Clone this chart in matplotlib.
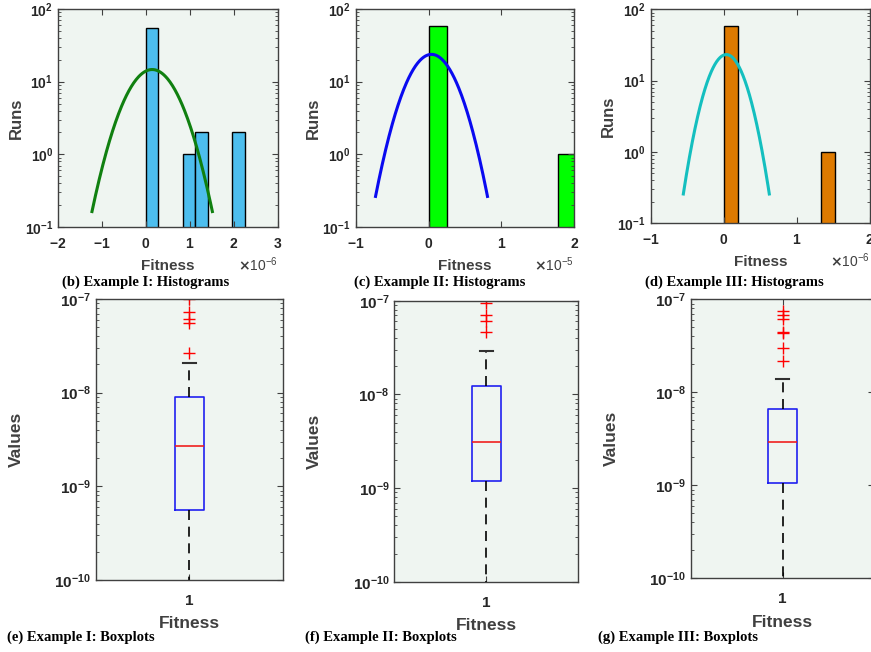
import numpy as np
import matplotlib
matplotlib.use("Agg")
import matplotlib.pyplot as plt
from matplotlib.ticker import ScalarFormatter, LogLocator

plt.rcParams['font.family'] = ['Liberation Sans', 'DejaVu Sans']
plt.rcParams['font.weight'] = 'bold'
plt.rcParams['axes.labelweight'] = 'bold'
plt.rcParams['axes.unicode_minus'] = False

# ---- histogram data (fitness values, counts per bin) ----
hist_titles = ['(b) Example I: Histograms', '(c) Example II: Histograms',
               '(d) Example III: Histograms']
hist_left_edges = [[0.0, 0.84e-6, 1.12e-6, 1.96e-6],
                   [0.0, 1.776e-5],
                   [0.0, 1.33e-6]]
hist_counts = [[55, 1, 2, 2],
               [59, 1],
               [59, 1]]
hist_binwidth = [0.28e-6, 0.254e-5, 0.19e-6]
hist_xlim = [(-2e-6, 3e-6), (-1e-5, 2e-5), (-1e-6, 2e-6)]
hist_xticks = [[-2e-6, -1e-6, 0, 1e-6, 2e-6, 3e-6],
               [-1e-5, 0, 1e-5, 2e-5],
               [-1e-6, 0, 1e-6, 2e-6]]
# normal fit (histfit) parameters
fit_mu = [0.14e-6, 0.04e-5, 0.034e-6]
fit_sigma = [0.456e-6, 0.256e-5, 0.196e-6]
n_runs = 60
bar_colors = ['#4DBEEE', '#00FF00', '#DE7A00']
fit_colors = ['#108010', '#0A0AF0', '#14BFBF']

# ---- boxplot data ----
box_titles = ['(e) Example I: Boxplots', '(f) Example II: Boxplots',
              '(g) Example III: Boxplots']
box_q1 = [5.6e-10, 1.2e-9, 1.05e-9]
box_med = [2.72e-9, 3.13e-9, 2.94e-9]
box_q3 = [8.9e-9, 1.24e-8, 6.56e-9]
box_whislo = [2e-11, 2e-11, 2e-11]
box_whishi = [2.09e-8, 2.92e-8, 1.4e-8]
box_fliers = [[1.0e-7, 7.2e-8, 6.1e-8, 5.6e-8, 2.67e-8],
              [9.4e-8, 7.0e-8, 6.07e-8, 4.67e-8],
              [7.55e-8, 6.78e-8, 6.1e-8, 4.4e-8, 4.3e-8, 2.97e-8, 2.19e-8]]

face = '#EFF5F1'
spine_col = '#404040'
txt_col = '#262626'

fig = plt.figure(figsize=(8.71, 6.52), dpi=100)

hist_pos = [[0.0666, 0.6518, 0.2526, 0.3344],
            [0.4084, 0.6518, 0.2510, 0.3344],
            [0.7471, 0.6575, 0.2518, 0.3282]]
box_pos = [[0.1102, 0.1104, 0.2143, 0.4310],
           [0.4527, 0.1078, 0.2113, 0.4310],
           [0.7933, 0.1130, 0.2106, 0.4279]]
hist_cap_x = [0.0712, 0.4064, 0.7405]
box_cap_x = [0.008, 0.350, 0.6866]


def style_axes(ax, fs):
    ax.set_facecolor(face)
    for s in ax.spines.values():
        s.set_color(spine_col)
        s.set_linewidth(1.0)
    ax.tick_params(which='both', direction='in', top=True, right=True,
                   colors=spine_col, labelcolor=txt_col, labelsize=fs)
    ax.tick_params(which='major', length=4)
    ax.tick_params(which='minor', length=2)


for i in range(3):
    ax = fig.add_axes(hist_pos[i])
    style_axes(ax, 10)
    ax.bar(hist_left_edges[i], hist_counts[i], width=hist_binwidth[i],
           align='edge', color=bar_colors[i], edgecolor='black', linewidth=1.0)
    mu, sd = fit_mu[i], fit_sigma[i]
    xs = np.linspace(mu - 3 * sd, mu + 3 * sd, 200)
    pdf = np.exp(-0.5 * ((xs - mu) / sd) ** 2) / (sd * np.sqrt(2 * np.pi))
    ax.plot(xs, n_runs * hist_binwidth[i] * pdf, color=fit_colors[i], lw=2.2)
    ax.set_yscale('log')
    ax.set_ylim(0.1, 100)
    ax.yaxis.set_minor_locator(LogLocator(base=10, subs=np.arange(2, 10)))
    ax.set_xlim(*hist_xlim[i])
    ax.set_xticks(hist_xticks[i])
    ax.tick_params(axis='x', pad=7)
    fmt = ScalarFormatter(useMathText=True)
    fmt.set_powerlimits((0, 0))
    ax.xaxis.set_major_formatter(fmt)
    ax.xaxis.get_offset_text().set_fontsize(10)
    ax.xaxis.get_offset_text().set_color('#404040')
    ax.xaxis.get_offset_text().set_fontweight('normal')
    ax.set_xlabel('Fitness', fontsize=11, color='#404040', labelpad=6)
    ax.set_ylabel('Runs', fontsize=12, color='#404040', labelpad=1)
    fig.text(hist_cap_x[i], 0.5675, hist_titles[i], family='Liberation Serif',
             fontweight='bold', fontsize=10.5, va='center', ha='left', color='black')

for i in range(3):
    ax = fig.add_axes(box_pos[i])
    style_axes(ax, 11)
    stats = [dict(med=box_med[i], q1=box_q1[i], q3=box_q3[i],
                  whislo=box_whislo[i], whishi=box_whishi[i],
                  fliers=box_fliers[i], label='1')]
    ax.bxp(stats, positions=[1], widths=0.155, capwidths=0.07,
           boxprops=dict(color='#2020F0', lw=1.2),
           medianprops=dict(color='#F02020', lw=1.2),
           whiskerprops=dict(color='black', lw=1.2, linestyle=(0, (6, 4))),
           capprops=dict(color='#303030', lw=1.5),
           flierprops=dict(marker='+', markeredgecolor='red', markersize=8,
                           markeredgewidth=1.0, linestyle='none'))
    ax.set_yscale('log')
    ax.set_ylim(1e-10, 1e-7)
    ax.yaxis.set_minor_locator(LogLocator(base=10, subs=np.arange(2, 10)))
    ax.set_xlim(0.5, 1.5)
    ax.tick_params(axis='x', labelsize=11, pad=10)
    ax.set_xlabel('Fitness', fontsize=12.5, color='#404040', labelpad=6)
    ax.set_ylabel('Values', fontsize=12.5, color='#404040', labelpad=22)
    fig.text(box_cap_x[i], 0.0175, box_titles[i], family='Liberation Serif',
             fontweight='bold', fontsize=10.5, va='baseline', ha='left', color='black')

fig.savefig('out.png', dpi=100)
